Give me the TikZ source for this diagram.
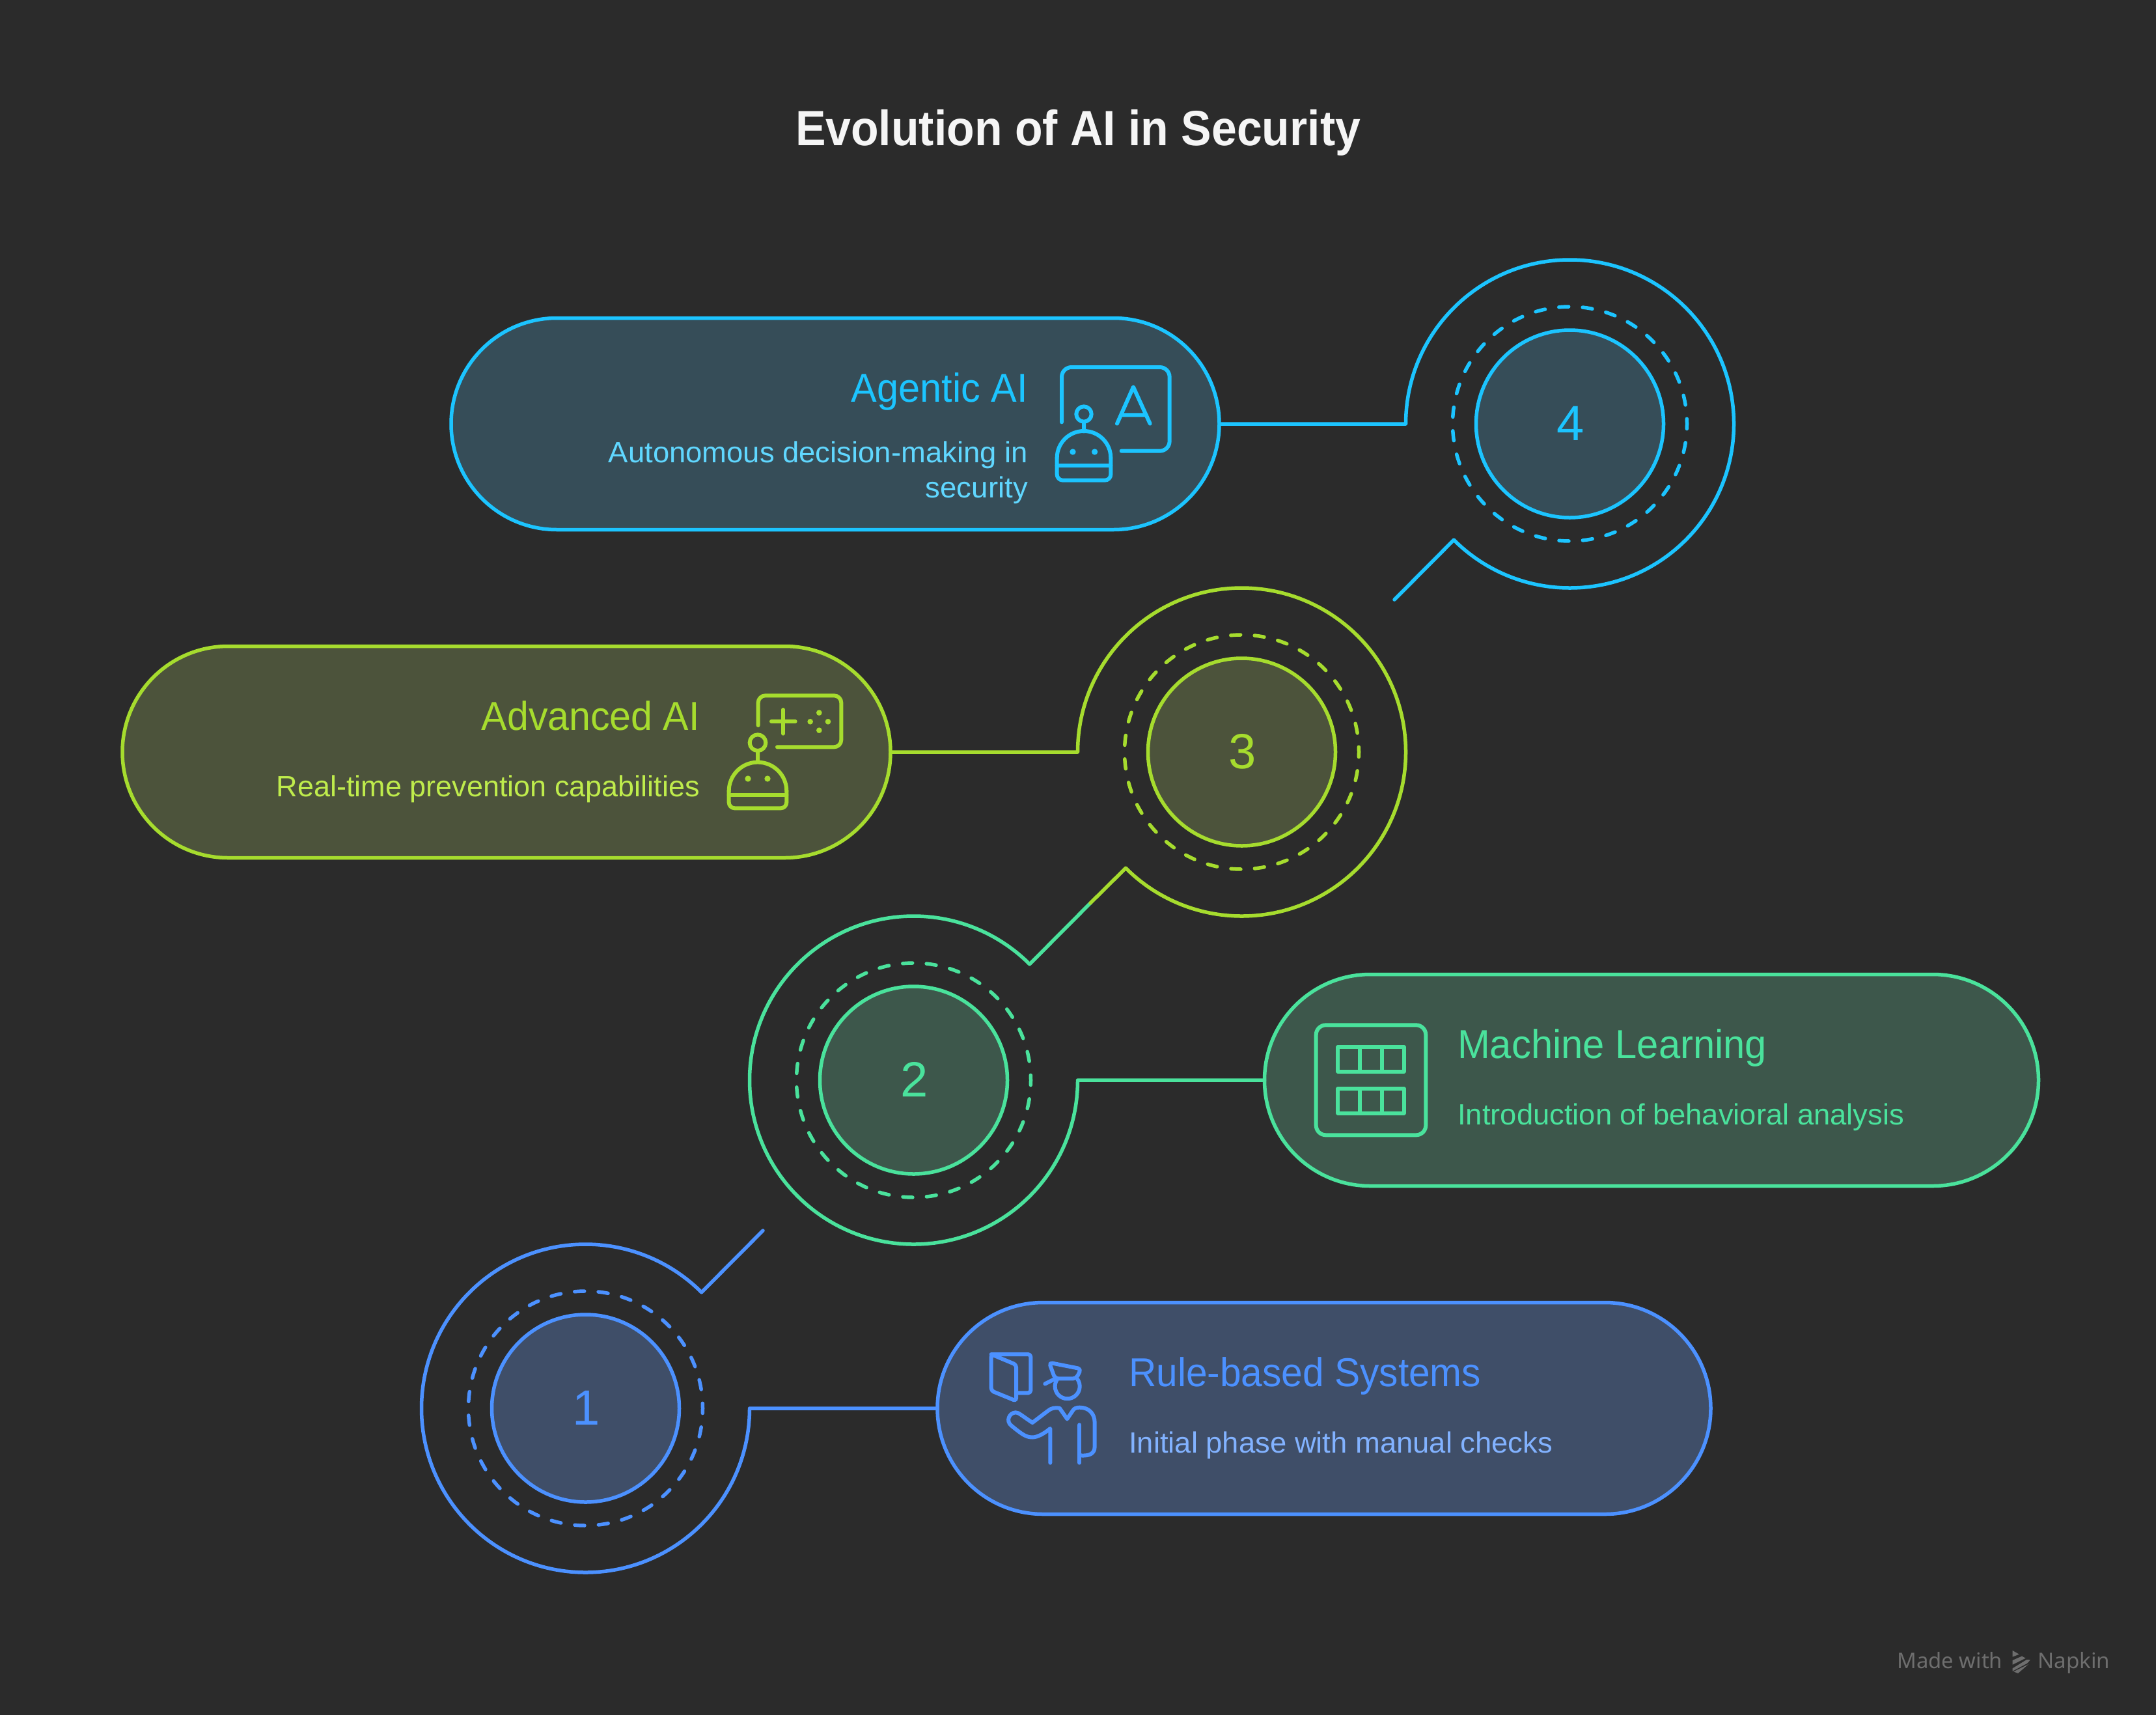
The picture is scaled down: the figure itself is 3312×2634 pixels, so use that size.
\documentclass[tikz,border=0pt]{standalone}
\usepackage{fontspec}
\usepackage{graphicx}
\setmainfont{Liberation Sans}
\newfontfamily\wmfont{Noto Sans}
\usetikzlibrary{shapes.misc}
\definecolor{bgc}{HTML}{2B2B2B}
\definecolor{blue}{HTML}{4C91FF}
\definecolor{bluefill}{HTML}{3F4E68}
\definecolor{bluedesc}{HTML}{82B2FF}
\definecolor{grn}{HTML}{4AE29C}
\definecolor{grnfill}{HTML}{3D574B}
\definecolor{grndesc}{HTML}{4AE29C}
\definecolor{lime}{HTML}{A6DC2E}
\definecolor{limefill}{HTML}{4C533B}
\definecolor{limedesc}{HTML}{BFEC4C}
\definecolor{cyan}{HTML}{1CC4FF}
\definecolor{cyanfill}{HTML}{364D58}
\definecolor{cyandesc}{HTML}{60D7FF}
\definecolor{wm}{HTML}{6E6E6E}
\newsavebox\fitbox
\newcommand\fitx[2]{\sbox\fitbox{#2}\pgfmathsetmacro\fitr{#1/\the\wd\fitbox}\scalebox{\fitr}[1]{\usebox\fitbox}}
\newcommand\nudged[1]{\raisebox{2pt}{\kern3pt #1}}
\tikzset{
  pill/.style={rounded rectangle,draw=#1,fill=#1fill,line width=5.5pt,minimum height=325pt,minimum width=1180pt,inner sep=0pt,outer sep=0pt},
  hub/.style={circle,draw=#1,fill=#1fill,text=#1,line width=5.5pt,minimum size=288pt,inner sep=0pt,outer sep=0pt,font=\fontsize{76}{76}\selectfont},
  dashring/.style={draw=#1,line width=5.5pt,line cap=round,dash pattern=on 15pt off 21.48pt,dash phase=7.5pt},
  wire/.style={draw=#1,line width=5.5pt,line cap=round,line join=round},
  icon/.style={draw=#1,line width=6pt,line cap=round,line join=round},
  head/.style={anchor=base,inner sep=0pt,font=\fontsize{62}{62}\selectfont},
  desc/.style={anchor=base,inner sep=0pt,font=\fontsize{45}{45}\selectfont},
}
\begin{document}
\begin{tikzpicture}[x=1pt,y=-1pt]
\fill[bgc] (0,0) rectangle (3312,2634);
\useasboundingbox (0,0) rectangle (3312,2634);
\node[anchor=base,inner sep=0pt,text=white!96!black,font=\bfseries\fontsize{76}{76}\selectfont] (title) at (1656,223) {\fitx{868}{Evolution of AI in Security}};
\coordinate (end1) at (1172,1890);\coordinate (mid) at (1675,1387);\coordinate (end4) at (2142,921);
% pills
\node[pill=blue,minimum width=1188pt] (p1) at (2034,2163) {};
\node[pill=grn,minimum width=1189pt] (p2) at (2537,1659) {};
\node[pill=lime] (p3) at (778,1155) {};
\node[pill=cyan] (p4) at (1283,651) {};
% hubs
\node[hub=blue] (c1) at (899.5,2163) {\nudged{1}};
\node[hub=grn] (c2) at (1403.5,1659) {\nudged{2}};
\node[hub=lime] (c3) at (1907.5,1155) {\nudged{3}};
\node[hub=cyan] (c4) at (2411.5,651) {\nudged{4}};
\path[dashring=blue] (c1.center) circle[radius=180];
\path[dashring=grn] (c2.center) circle[radius=180];
\path[dashring=lime] (c3.center) circle[radius=180];
\path[dashring=cyan] (c4.center) circle[radius=180];
% connectors
\path[wire=blue] (p1.west) -- (1151.5,2163) arc[start angle=0,end angle=315,radius=252] -- (end1);
\path[wire=grn] (p2.west) -- (1655.5,1659) arc[start angle=0,end angle=315,radius=252] -- (mid);
\path[wire=lime] (p3.east) -- (1655.5,1155) arc[start angle=180,end angle=495,radius=252] -- (mid);
\path[wire=cyan] (p4.east) -- (2159.5,651) arc[start angle=180,end angle=495,radius=252] -- (end4);
% text
\node[head,anchor=base east,text=cyan] (h4) at (1579,617) {\fitx{271}{Agentic AI}};
\node[desc,anchor=base east,text=cyandesc] (d4a) at (1579,710) {\fitx{644}{Autonomous decision-making in}};
\node[desc,anchor=base east,text=cyandesc] (d4b) at (1579,764) {\fitx{157}{security}};
\node[head,anchor=base east,text=lime] (h3) at (1075,1121) {\fitx{335}{Advanced AI}};
\node[desc,anchor=base east,text=limedesc] (d3) at (1075,1223) {\fitx{650}{Real-time prevention capabilities}};
\node[head,anchor=base west,text=grn] (h2) at (2239,1625) {\fitx{475}{Machine Learning}};
\node[desc,anchor=base west,text=grndesc] (d2) at (2239,1727) {\fitx{686}{Introduction of behavioral analysis}};
\node[head,anchor=base west,text=blue] (h1) at (1734,2129) {\fitx{541}{Rule-based Systems}};
\node[desc,anchor=base west,text=bluedesc] (d1) at (1734,2231) {\fitx{651}{Initial phase with manual checks}};
% icon 4
\begin{scope}[shift={(1580,540)},x=0.3333pt,y=-0.3333pt,icon=cyan]
\draw[rounded corners=15pt] (153,325) -- (153,72) -- (650,72) -- (650,458) -- (428,458);
\draw (408,332) -- (483,163) -- (560,332) (425,292) -- (543,292);
\draw (255,288) circle[radius=35] (255,323) -- (255,367);
\draw (131,490) arc[start angle=180,end angle=360,radius=124];
\draw[rounded corners=9pt] (131,490) -- (131,593) -- (379,593) -- (379,490);
\draw (131,524) -- (379,524);
\fill[cyan] (204,462) circle[radius=14] (305,462) circle[radius=14];
\end{scope}
% icon 3
\begin{scope}[shift={(1090,1040)},x=0.3333pt,y=-0.3333pt,icon=lime]
\draw[rounded corners=11pt] (224,222) -- (224,85) -- (607,85) -- (607,322) -- (312,322);
\draw (285,204) -- (395,204) (339,150) -- (339,260);
\fill[lime] (505,164) circle[radius=13] (464,205) circle[radius=13] (546,205) circle[radius=13] (505,245) circle[radius=13];
\draw (222,302) circle[radius=37] (222,339) -- (222,388);
\draw (89,525) arc[start angle=180,end angle=360,radius=133];
\draw[rounded corners=9pt] (89,525) -- (89,604) -- (355,604) -- (355,525);
\draw (89,543) -- (355,543);
\fill[lime] (177,468) circle[radius=14] (267,468) circle[radius=14];
\end{scope}
% icon 2
\begin{scope}[shift={(1990,1550)},x=0.3333pt,y=-0.3333pt,icon=grn]
\draw[rounded corners=15pt] (95,73) rectangle (601,580);
\draw (196,174) rectangle (500,287) (297,174) -- (297,287) (398,174) -- (398,287);
\draw (196,366) rectangle (500,479) (297,366) -- (297,479) (398,366) -- (398,479);
\end{scope}
% icon 1
\begin{scope}[shift={(1500,2050)},x=0.3333pt,y=-0.3333pt,icon=blue]
\draw[rounded corners=4pt] (68,90) -- (250,90) -- (250,268) -- (183,268);
\draw[rounded corners=4pt] (68,90) -- (68,258) -- (183,305) -- (183,138) -- cycle;
\draw[rounded corners=5pt] (335,128) -- (482,157) -- (460,202) -- (362,202) -- cycle;
\draw (316,226) -- (362,203);
\draw (372.3,205) arc[start angle=215,end angle=-35,radius=57];
\draw (340,590) -- (340,432) .. controls (300,465) and (270,475) .. (250,472) .. controls (225,470) and (205,455) .. (160,418) .. controls (135,398) and (150,360) .. (180,358) .. controls (195,358) and (205,370) .. (258,405) -- (330,350) .. controls (345,337) and (365,335) .. (383,338) -- (418,388) -- (445,348) .. controls (450,340) and (460,335) .. (475,335) .. controls (520,335) and (545,365) .. (545,405) -- (545,515) .. controls (545,545) and (525,560) .. (478,556);
\draw (475,415) -- (475,590);
\end{scope}
% watermark
\node[anchor=base west,inner sep=0pt,text=wm,font=\wmfont\fontsize{33}{33}\selectfont] (wm1) at (2914,2562) {\fitx{162}{Made with}};
\node[anchor=base west,inner sep=0pt,text=wm,font=\wmfont\fontsize{33}{33}\selectfont] (wm2) at (3130,2562) {\fitx{111}{Napkin}};
\begin{scope}[shift={(2880,2510)},x=0.3333pt,y=-0.3333pt]
\fill[wm] (635,75) -- (665,92) -- (635,104) -- cycle;
\fill[wm] (635,120) -- (678,101) -- (695,110) -- (635,140) -- cycle;
\fill[wm] (635,157) -- (700,117) -- (717,118) -- (702,134) -- (635,170) -- cycle;
\fill[wm] (640,172) -- (708,138) -- (660,180) -- cycle;
\end{scope}
\end{tikzpicture}
\end{document}
